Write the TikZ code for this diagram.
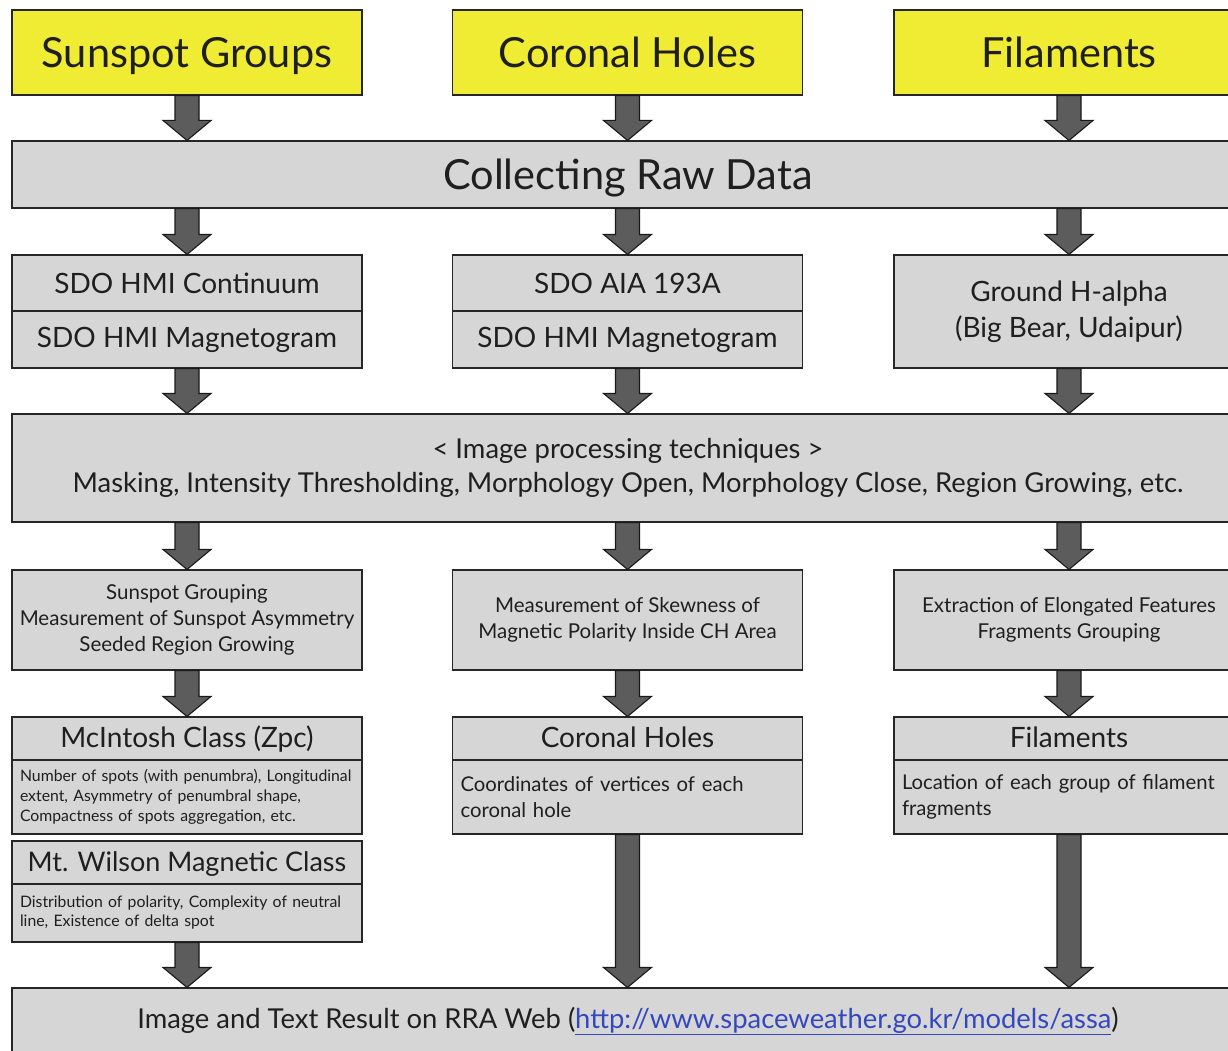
\documentclass[tikz,border=0pt]{standalone}
\usepackage{fontspec}
\setmainfont{Lato}
\usetikzlibrary{calc}
\definecolor{yellowfill}{RGB}{240,236,52}
\definecolor{grayfill}{RGB}{214,214,214}
\definecolor{arrowfill}{RGB}{92,92,92}
\definecolor{linkblue}{RGB}{52,72,190}
\newcommand\fs[2]{\fontsize{#1}{#2}\selectfont}
\newcommand\barrow[3]{\path[blockarrow] let \p1=(#1.south -| #3), \p2=(#2.north -| #3) in
  (\x1-12pt,\y1) -- (\x1+12pt,\y1) -- (\x1+12pt,\y2+20pt) -- (\x1+24pt,\y2+20pt) --
  (\x1,\y2) -- (\x1-24pt,\y2+20pt) -- (\x1-12pt,\y2+20pt) -- cycle;}
\begin{document}
\begin{tikzpicture}[x=1pt,y=-1pt,
  box/.style={draw=black!85, line width=1.1pt, fill=grayfill, inner sep=0pt,
    minimum width=350pt, text=black!88, anchor=center},
  widebox/.style={box, minimum width=1232pt},
  titlebox/.style={box, fill=yellowfill, minimum height=85pt, font=\fs{41.5}{48},
    text height=36pt, text depth=5pt},
  srcbox/.style={box, minimum height=56pt, font=\fs{28}{36}, align=center},
  procbox/.style={box, minimum height=100pt, font=\fs{20.5}{26}, align=center},
  headbox/.style={box, minimum height=43pt, font=\fs{28}{30}, text height=22pt, text depth=4pt},
  descbox/.style={box, minimum height=74pt, text width=334pt, align=left, font=\fs{20.3}{26}},
  blockarrow/.style={fill=arrowfill, draw=black!90, line width=1.1pt, line join=miter}]
\useasboundingbox (0,0) rectangle (1228,1051);
\clip (0,0) rectangle (1228,1051);
\fill[white] (0,0) rectangle (1228,1051);
\coordinate (cA) at (187,0);
\coordinate (cB) at (627.5,0);
\coordinate (cC) at (1069,0);

% titles
\node[titlebox] (tA) at (187,52.5) {Sunspot Groups};
\node[titlebox] (tB) at (627.5,52.5) {Coronal Holes};
\node[titlebox] (tC) at (1069,52.5) {Filaments};

\node[widebox, minimum height=67pt, font=\fs{41.5}{46}, text height=34pt, text depth=4pt] (raw) at (628,174.5) {Collecting Raw Data};

% sources
\node[srcbox] (sA1) at (187,283) {SDO HMI Continuum};
\node[srcbox, minimum height=57pt] (sA2) at (187,339.5) {SDO HMI Magnetogram};
\node[srcbox] (sB1) at (627.5,283) {SDO AIA 193A};
\node[srcbox, minimum height=57pt] (sB2) at (627.5,339.5) {SDO HMI Magnetogram};
\node[srcbox, minimum height=113pt] (sC) at (1069,311.5) {Ground H-alpha\\(Big Bear, Udaipur)};

\node[widebox, minimum height=108pt, font=\fs{27.4}{34}, align=center] (ip) at (628,468)
  {< Image processing techniques >\\Masking, Intensity Thresholding, Morphology Open, Morphology Close, Region Growing, etc.};

% processing
\node[procbox] (pA) at (187,620) {Sunspot Grouping\\Measurement of Sunspot Asymmetry\\Seeded Region Growing};
\node[procbox] (pB) at (627.5,620) {Measurement of Skewness of\\Magnetic Polarity Inside CH Area};
\node[procbox] (pC) at (1069,620) {Extraction of Elongated Features\\Fragments Grouping};

% results
\node[headbox] (hA) at (187,738.5) {McIntosh Class (Zpc)};
\node[descbox, font=\fs{15.8}{20}] (dA) at (187,797) {Number of spots (with penumbra), Longitudinal\\extent, Asymmetry of penumbral shape,\\Compactness of spots aggregation, etc.};
\node[headbox] (hB) at (627.5,738.5) {Coronal Holes};
\node[descbox] (dB) at (627.5,797) {Coordinates of vertices of each\\coronal hole};
\node[headbox] (hC) at (1069,738.5) {Filaments};
\node[descbox] (dC) at (1069,797) {Location of each group of filament\\fragments};

\node[headbox, font=\fs{27}{30}] (wA) at (187,862.5) {Mt. Wilson Magnetic Class};
\node[descbox, minimum height=58pt, font=\fs{15.8}{19}] (wdA) at (187,913) {Distribution of polarity, Complexity of neutral\\line, Existence of delta spot};

\node[widebox, minimum height=66pt, font=\fs{27.4}{30}] (web) at (628,1021)
  {Image and Text Result on RRA Web ({\color{linkblue}\underline{http://www.spaceweather.go.kr/models/assa}})};

% arrows
\barrow{tA}{raw}{cA}
\barrow{tB}{raw}{cB}
\barrow{tC}{raw}{cC}
\barrow{raw}{sA1}{cA}
\barrow{raw}{sB1}{cB}
\barrow{raw}{sC}{cC}
\barrow{sA2}{ip}{cA}
\barrow{sB2}{ip}{cB}
\barrow{sC}{ip}{cC}
\barrow{ip}{pA}{cA}
\barrow{ip}{pB}{cB}
\barrow{ip}{pC}{cC}
\barrow{pA}{hA}{cA}
\barrow{pB}{hB}{cB}
\barrow{pC}{hC}{cC}
\barrow{wdA}{web}{cA}
\barrow{dB}{web}{cB}
\barrow{dC}{web}{cC}
\end{tikzpicture}
\end{document}
